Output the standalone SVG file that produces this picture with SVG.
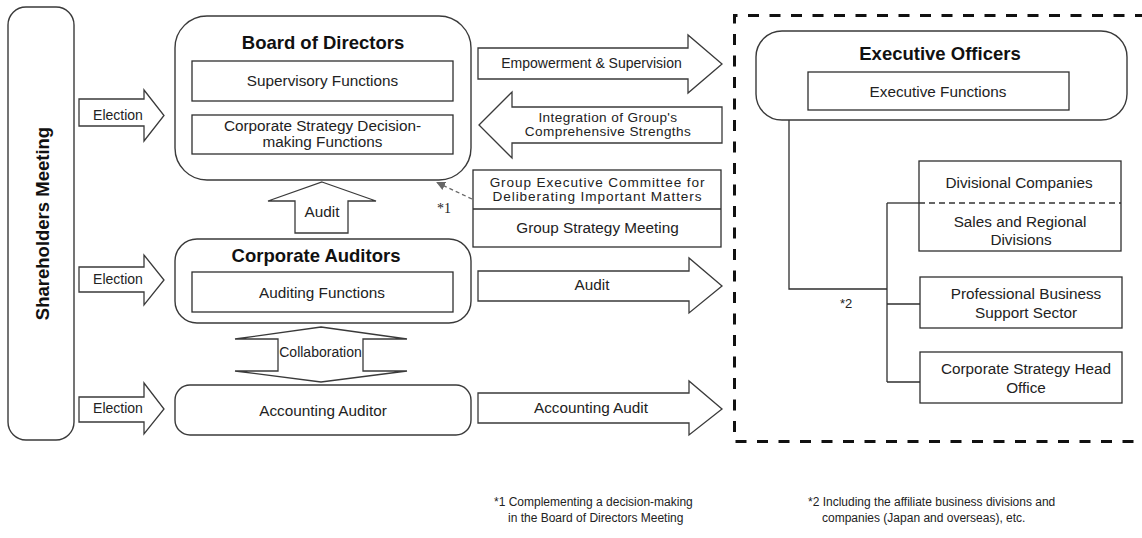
<svg xmlns="http://www.w3.org/2000/svg" width="1142" height="538" viewBox="0 0 1142 538">
  <style>
    .frame { fill: #ffffff; stroke: #3a3a3a; stroke-width: 1.4; }
    .box { fill: #ffffff; stroke: #2e2e2e; stroke-width: 1.3; }
    .arrow { fill: #ffffff; stroke: #3a3a3a; stroke-width: 1.3; stroke-linejoin: miter; }
    .line { fill: none; stroke: #2e2e2e; stroke-width: 1.3; }
    .title { font-family: "Liberation Sans", Arial, sans-serif; font-size: 18.5px; font-weight: bold; fill: #111; text-anchor: middle; }
    .t { font-family: "Liberation Sans", Arial, sans-serif; font-size: 15.3px; fill: #222; text-anchor: middle; }
    .s { font-family: "Liberation Sans", Arial, sans-serif; font-size: 14px; fill: #222; text-anchor: middle; }
    .tight { font-family: "Liberation Sans", Arial, sans-serif; font-size: 13.6px; fill: #222; text-anchor: middle; }
    .note { font-family: "Liberation Sans", Arial, sans-serif; font-size: 12px; fill: #222; }
    .mark { font-family: "Liberation Serif", "Times New Roman", serif; font-size: 14px; fill: #222; }
  </style>
  <defs>
    <marker id="headGray" viewBox="0 0 10 10" refX="9" refY="5" markerWidth="9" markerHeight="9" markerUnits="userSpaceOnUse" orient="auto">
      <path d="M0,0 L10,5 L0,10 z" fill="#666"/>
    </marker>
  </defs>

  <rect width="1142" height="538" fill="#ffffff"/>

  <!-- executive side boundary -->
  <path d="M1146,15.5 H734.5 V441.5 H1146" fill="none" stroke="#111" stroke-width="3" stroke-dasharray="11 10.5"/>

  <g id="connectors">
    <!-- shareholder elections -->
    <polygon class="arrow" points="79,99 144,99 144,90 164,115.5 144,141 144,126 79,126"/>
    <text class="s" x="118" y="119.5">Election</text>
    <polygon class="arrow" points="79,267 144,267 144,255 164,280 144,305 144,292 79,292"/>
    <text class="s" x="118" y="283.5">Election</text>
    <polygon class="arrow" points="79,397 144,397 144,383 164,409 144,434 144,422 79,422"/>
    <text class="s" x="118" y="413">Election</text>

    <!-- audit up to board -->
    <polygon class="arrow" points="322,182 376,201 348,201 348,233 295,233 295,201 268,201"/>
    <text class="t" x="322" y="217">Audit</text>

    <!-- collaboration -->
    <polygon class="arrow" points="321,327 407,339 363,339 363,371 407,371 321,382 235,371 278,371 278,339 235,339"/>
    <text class="s" x="320.5" y="357">Collaboration</text>

    <!-- board <-> executive -->
    <polygon class="arrow" points="478,48 688,48 688,35 722,64 688,93 688,79 478,79"/>
    <text class="s" x="591.5" y="68">Empowerment &amp; Supervision</text>
    <polygon class="arrow" points="479,125 512,92 512,107 722,107 722,143 512,143 512,158"/>
    <text class="tight" x="608" y="121.5" letter-spacing="0.4">Integration of Group's</text>
    <text class="tight" x="608" y="135.5" letter-spacing="0.4">Comprehensive Strengths</text>

    <!-- audits to executive -->
    <polygon class="arrow" points="478,271 689,271 689,258 722,286 689,313 689,301 478,301"/>
    <text class="t" x="592" y="290">Audit</text>
    <polygon class="arrow" points="478,393 689,393 689,381 722,409 689,435 689,423 478,423"/>
    <text class="t" x="591" y="412.5">Accounting Audit</text>

    <!-- committee advises board -->
    <line x1="472" y1="199" x2="437" y2="182.5" stroke="#666" stroke-width="1.3" stroke-dasharray="4 3" marker-end="url(#headGray)"/>
    <text class="mark" x="437" y="213">*1</text>

    <!-- executive officers tree -->
    <path class="line" d="M789,120 V289 H887"/>
    <path class="line" d="M887,203 V382"/>
    <path class="line" d="M887,203 H919"/>
    <path class="line" d="M887,304 H920"/>
    <path class="line" d="M887,382 H920"/>
    <text class="note" x="840" y="308" style="font-size:13px">*2</text>
  </g>

  <g id="shareholders">
    <rect class="frame" x="8" y="7" width="66" height="433" rx="18"/>
    <text class="title" transform="translate(48.5,223.5) rotate(-90)">Shareholders Meeting</text>
  </g>

  <g id="board">
    <rect class="frame" x="175" y="16" width="296" height="164" rx="32"/>
    <text class="title" x="323" y="49">Board of Directors</text>
    <rect class="box" x="192" y="61" width="261" height="40"/>
    <text class="t" x="322.5" y="86">Supervisory Functions</text>
    <rect class="box" x="192" y="115" width="261" height="39"/>
    <text class="t" x="322.5" y="131">Corporate Strategy Decision-</text>
    <text class="t" x="322.5" y="147">making Functions</text>
  </g>

  <g id="corporate-auditors">
    <rect class="frame" x="175" y="239" width="296" height="84" rx="22"/>
    <text class="title" x="316" y="262">Corporate Auditors</text>
    <rect class="box" x="192" y="272" width="261" height="40"/>
    <text class="t" x="322" y="298">Auditing Functions</text>
  </g>

  <g id="accounting-auditor">
    <rect class="frame" x="175" y="385" width="296" height="50" rx="15"/>
    <text class="t" x="323" y="416">Accounting Auditor</text>
  </g>

  <g id="group-committee">
    <rect class="box" x="473" y="170" width="248" height="77"/>
    <line class="line" x1="473" y1="209" x2="721" y2="209"/>
    <text class="tight" x="597.5" y="186.5" letter-spacing="0.9">Group Executive Committee for</text>
    <text class="tight" x="597.5" y="201" letter-spacing="0.9">Deliberating Important Matters</text>
    <text class="t" x="597.5" y="232.5">Group Strategy Meeting</text>
  </g>

  <g id="executive-officers">
    <rect class="frame" x="756" y="31" width="371" height="89" rx="26"/>
    <text class="title" x="940" y="60">Executive Officers</text>
    <rect class="box" x="808" y="72" width="261" height="38"/>
    <text class="t" x="938" y="97">Executive Functions</text>
  </g>

  <g id="divisions">
    <rect class="box" x="919" y="161" width="202" height="90"/>
    <line x1="919" y1="203" x2="1121" y2="203" stroke="#333" stroke-width="1.3" stroke-dasharray="6 4"/>
    <text class="t" x="1019" y="188">Divisional Companies</text>
    <text class="t" x="1020" y="226.5">Sales and Regional</text>
    <text class="t" x="1021" y="245">Divisions</text>
  </g>

  <g id="professional-support">
    <rect class="box" x="920" y="277" width="202" height="51"/>
    <text class="t" x="1026" y="299">Professional Business</text>
    <text class="t" x="1026" y="318">Support Sector</text>
  </g>

  <g id="strategy-head-office">
    <rect class="box" x="920" y="352" width="202" height="51"/>
    <text class="t" x="1026" y="374">Corporate Strategy Head</text>
    <text class="t" x="1026" y="393">Office</text>
  </g>

  <g id="notes">
    <text class="note" x="494" y="506">*1 Complementing a decision-making</text>
    <text class="note" x="508" y="522">in the Board of Directors Meeting</text>
    <text class="note" x="808" y="506">*2  Including the affiliate business divisions and</text>
    <text class="note" x="822" y="522">companies (Japan and overseas), etc.</text>
  </g>
</svg>
